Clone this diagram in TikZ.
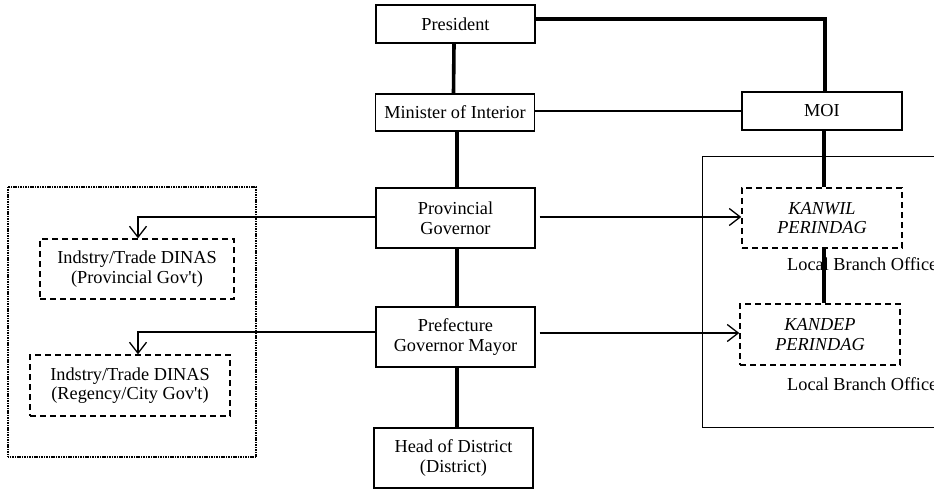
\documentclass[tikz,border=0pt]{standalone}
\usepackage{fontspec}
\setmainfont{Liberation Serif}
\usetikzlibrary{arrows.meta}
\begin{document}
\begin{tikzpicture}[x=1pt,y=-1pt,
  every node/.style={font=\fontsize{18.3}{19.5}\selectfont, align=center, inner sep=0pt},
  solidbox/.style={draw, line width=1.4pt, minimum width=159pt, minimum height=#1},
  dashbox/.style={draw, line width=1.4pt, dash pattern=on 6pt off 4pt, minimum width=160pt, minimum height=60pt},
  heavy/.style={line width=3.6pt},
  arr/.style={line width=1.3pt, -{Straight Barb[length=11pt,width=17pt,line width=1.3pt]}},
  lbl/.style={anchor=west}
]
\useasboundingbox (0,0) rectangle (934,489);
\clip (0,0) rectangle (934,489);
% outer frames
\draw[line width=1pt] (702,157) rectangle (960,427);
\draw[line width=2.6pt, dash pattern=on 1.1pt off 0.6pt] (8,187) rectangle (256,457);
% nodes
\node[solidbox=38pt] (pres) at (455.5,24) {President};
\node[solidbox=37pt] (min) at (455,112.5) {Minister of Interior};
\node[solidbox=60pt] (pg) at (455.5,218) {Provincial\\Governor};
\node[solidbox=60pt] (pref) at (455.5,337) {Prefecture\\Governor Mayor};
\node[solidbox=60pt] (head) at (453.5,458) {Head of District\\(District)};
\node[solidbox=38pt, minimum width=160pt] (moi) at (822,111) {MOI};
\node[dashbox] (kanwil) at (822,218) {\itshape KANWIL\\\itshape PERINDAG};
\node[dashbox, minimum height=61pt] (kandep) at (820,334.5) {\itshape KANDEP\\\itshape PERINDAG};
\node[dashbox, minimum width=194pt] (dinas1) at (137,269) {Indstry/Trade DINAS\\(Provincial Gov\textquotesingle t)};
\node[dashbox, minimum width=200pt, minimum height=61pt] (dinas2) at (130,385.5) {Indstry/Trade DINAS\\(Regency/City Gov\textquotesingle t)};
\node[lbl] (lbo1) at (787,264) {Local Branch Office};
\node[lbl] (lbo2) at (787,384) {Local Branch Office};
% connectors
\draw[line width=4pt] ([yshift=5pt]pres.east) -| ([xshift=3pt]moi.north);
\draw[heavy] ([xshift=-1.5pt]pres.south) -- ([xshift=-1.5pt]min.north);
\draw[line width=2.7pt] ([yshift=1.5pt]min.east) -- (moi.west);
\draw[heavy] ([xshift=2pt]min.south) -- ([xshift=1.5pt]pg.north);
\draw[heavy] ([xshift=1.5pt]pg.south) -- ([xshift=1.5pt]pref.north);
\draw[heavy] ([xshift=1.5pt]pref.south) -- ([xshift=3.5pt]head.north);
\draw[heavy] ([xshift=2pt]moi.south) -- ([xshift=2pt]kanwil.north);
\draw[heavy] ([xshift=2pt]kanwil.south) -- ([xshift=4pt]kandep.north);
\draw[arr] ([xshift=4pt,yshift=1pt]pg.east) -- ([yshift=1pt]kanwil.west);
\draw[arr] ([xshift=4pt,yshift=4pt]pref.east) -- ([yshift=1.5pt]kandep.west);
\draw[arr] ([yshift=1pt]pg.west) -| ([xshift=1pt]dinas1.north);
\draw[arr] ([yshift=5pt]pref.west) -| ([xshift=8pt]dinas2.north);
\end{tikzpicture}
\end{document}
